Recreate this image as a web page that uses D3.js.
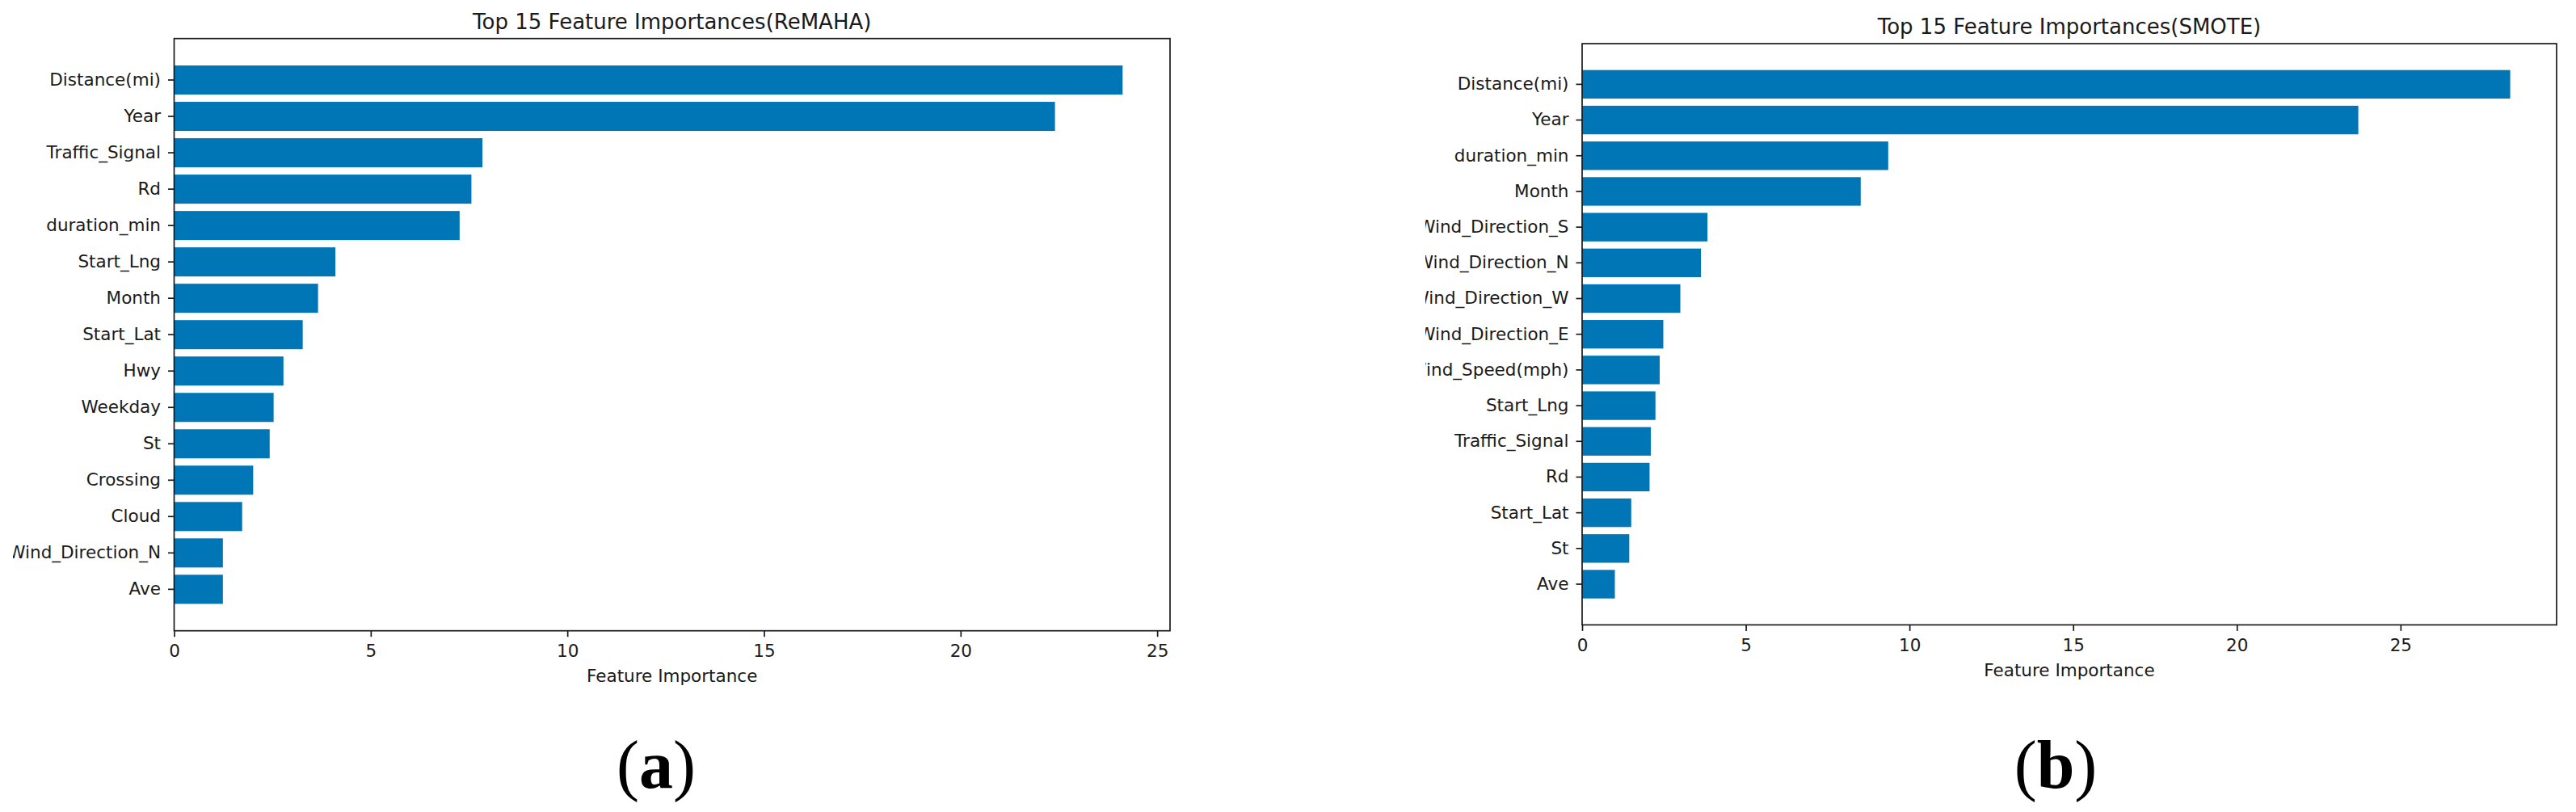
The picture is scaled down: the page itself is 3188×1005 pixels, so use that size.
<!DOCTYPE html>
<html>
<head>
<meta charset="utf-8">
<title>Top 15 Feature Importances</title>
<script src="https://cdn.jsdelivr.net/npm/d3@7"></script>
<style>
    body { margin: 0; background: #fff; }
    svg { display: block; }
    .tick text { font-family: "DejaVu Sans", sans-serif; fill: #1a1a1a; }
</style>
</head>
<body>
<div id="chart"></div>
<script>
// Feature importances (top to bottom)
const remahaFeatures = ['Distance(mi)', 'Year', 'Traffic_Signal', 'Rd', 'duration_min', 'Start_Lng',
    'Month', 'Start_Lat', 'Hwy', 'Weekday', 'St', 'Crossing', 'Cloud', 'Wind_Direction_N', 'Ave'];
const remahaValues = [24.12, 22.40, 7.84, 7.56, 7.26, 4.10, 3.66, 3.27, 2.78, 2.53, 2.43, 2.01, 1.73, 1.24, 1.24];

const smoteFeatures = ['Distance(mi)', 'Year', 'duration_min', 'Month', 'Wind_Direction_S', 'Wind_Direction_N',
    'Wind_Direction_W', 'Wind_Direction_E', 'Wind_Speed(mph)', 'Start_Lng', 'Traffic_Signal', 'Rd',
    'Start_Lat', 'St', 'Ave'];
const smoteValues = [28.35, 23.71, 9.35, 8.51, 3.83, 3.63, 3.00, 2.48, 2.37, 2.24, 2.10, 2.06, 1.50, 1.44, 1.00];

const xTicks = [0, 5, 10, 15, 20, 25];

const panelTitles = ['Top 15 Feature Importances(ReMAHA)', 'Top 15 Feature Importances(SMOTE)'];
const panelLetters = ['a', 'b'];

const WIDTH = 3188, HEIGHT = 1005;
const BAR_COLOR = '#0076b6';
const INK = '#1a1a1a';

const svg = d3.select('#chart')
    .append('svg')
    .attr('width', WIDTH)
    .attr('height', HEIGHT);

svg.append('rect').attr('width', WIDTH).attr('height', HEIGHT).attr('fill', '#fff');

// Each sub-figure was pasted as a cropped image, so its long labels get cut on the left
function drawPanel(opts) {
    const { features, values, title, letter, left, right, top, bottom, clipX, letterX } = opts;

    const clipId = 'clip-' + letter;
    svg.append('clipPath').attr('id', clipId)
        .append('rect')
        .attr('x', clipX).attr('y', 0)
        .attr('width', WIDTH - clipX).attr('height', HEIGHT);

    const g = svg.append('g').attr('clip-path', `url(#${clipId})`);

    const x = d3.scaleLinear()
        .domain([0, d3.max(values) * 1.05])
        .range([left, right]);

    const y = d3.scaleBand()
        .domain(features)
        .range([top, bottom])
        .paddingInner(0.2)
        .paddingOuter(0.74);

    // bars
    g.append('g')
        .selectAll('rect')
        .data(values)
        .enter().append('rect')
        .attr('x', x(0))
        .attr('y', (d, i) => y(features[i]))
        .attr('width', d => x(d) - x(0))
        .attr('height', y.bandwidth())
        .attr('fill', BAR_COLOR);

    // y axis
    const yAxis = g.append('g')
        .attr('transform', `translate(${left},0)`)
        .call(d3.axisLeft(y).tickSize(7.5).tickPadding(9));
    yAxis.select('.domain').remove();
    yAxis.selectAll('.tick line').attr('stroke', INK).attr('stroke-width', 1.7);
    yAxis.selectAll('.tick text').attr('font-size', '21.5px');

    // x axis
    const xAxis = g.append('g')
        .attr('transform', `translate(0,${bottom})`)
        .call(d3.axisBottom(x).tickValues(xTicks).tickFormat(d3.format('d')).tickSize(7.5).tickPadding(10));
    xAxis.select('.domain').remove();
    xAxis.selectAll('.tick line').attr('stroke', INK).attr('stroke-width', 1.7);
    xAxis.selectAll('.tick text').attr('font-size', '21.5px');

    // frame
    g.append('rect')
        .attr('x', left).attr('y', top)
        .attr('width', right - left).attr('height', bottom - top)
        .attr('fill', 'none')
        .attr('stroke', INK)
        .attr('stroke-width', 1.7);

    const cx = (left + right) / 2;

    // title
    g.append('text')
        .attr('x', cx).attr('y', top - 12)
        .attr('text-anchor', 'middle')
        .attr('font-family', '"DejaVu Sans", sans-serif')
        .attr('font-size', '26px')
        .attr('fill', INK)
        .text(title);

    // x label
    g.append('text')
        .attr('x', cx).attr('y', bottom + 56)
        .attr('dy', '0.35em')
        .attr('text-anchor', 'middle')
        .attr('font-family', '"DejaVu Sans", sans-serif')
        .attr('font-size', '21.5px')
        .attr('fill', INK)
        .text('Feature Importance');

    // sub-figure letter, e.g. (a)
    const lbl = svg.append('text')
        .attr('x', letterX).attr('y', 975)
        .attr('text-anchor', 'middle')
        .attr('font-family', '"Liberation Serif", "Times New Roman", serif')
        .attr('font-size', '84px')
        .attr('fill', '#000');
    lbl.append('tspan').text('(');
    lbl.append('tspan').attr('font-weight', 'bold').text(letter);
    lbl.append('tspan').text(')');
}

drawPanel({
    features: remahaFeatures, values: remahaValues,
    title: panelTitles[0], letter: panelLetters[0],
    left: 215.5, right: 1448, top: 47.7, bottom: 780.7,
    clipX: 16, letterX: 812
});

drawPanel({
    features: smoteFeatures, values: smoteValues,
    title: panelTitles[1], letter: panelLetters[1],
    left: 1958, right: 3164, top: 54, bottom: 773.4,
    clipX: 1764, letterX: 2544
});
</script>
</body>
</html>
